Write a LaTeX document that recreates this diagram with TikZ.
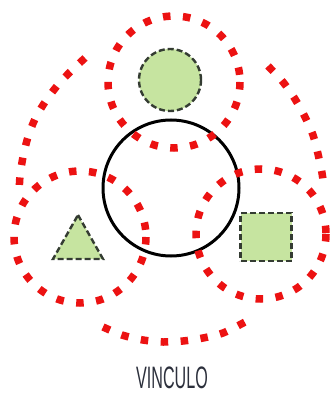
\documentclass[tikz,border=0pt]{standalone}
\usepackage{fontspec}
\setmainfont{Liberation Sans}
\definecolor{dotred}{RGB}{236,18,18}
\definecolor{leaf}{RGB}{198,228,160}
\definecolor{edge}{RGB}{52,60,50}
\definecolor{txt}{RGB}{44,48,60}
\begin{document}
\begin{tikzpicture}[x=1pt,y=-1pt,
  reddots/.style={draw=dotred,line width=7.5pt,dash pattern=on 7.5pt off 12.5pt},
  greenshape/.style={fill=leaf,draw=edge,line width=2.4pt,dash pattern=on 6pt off 3pt},
  ring/.style={draw=black,line width=3pt}]
\useasboundingbox[fill=white] (0,0) rectangle (335,398);
% black central circle
\draw[ring] (171,188) circle[radius=68];
% dotted circles
\draw[reddots] (174,82) circle[radius=66];
\draw[reddots] (80,237) circle[radius=66];
\draw[reddots] (261,234) circle[radius=65];
% outer arcs
\draw[reddots] plot[smooth] coordinates {(85,58) (70,72) (57,86) (45,102) (35,119) (28,137) (23,157) (20,176) (19,195)};
\draw[reddots] plot[smooth] coordinates {(268,66) (283,82) (295,99) (305,117) (313,135) (318,154) (322,173) (324,188)};
\draw[reddots] plot[smooth] coordinates {(103,327) (122,335) (143,340) (163,342) (183,341) (203,338) (223,333) (245,322)};
% green shapes
\node[greenshape,circle,minimum size=62pt,inner sep=0pt] (c) at (170,80) {};
\draw[greenshape] (78,215) -- (103,259) -- (53,259) -- cycle;
\node[greenshape,rectangle,minimum width=51pt,minimum height=48pt,inner sep=0pt] (s) at (266,237) {};
% label
\node[text=txt,font=\fontsize{31}{31}\selectfont,xscale=0.52,inner sep=0pt] (t) at (172,378) {VINCULO};
\end{tikzpicture}
\end{document}
